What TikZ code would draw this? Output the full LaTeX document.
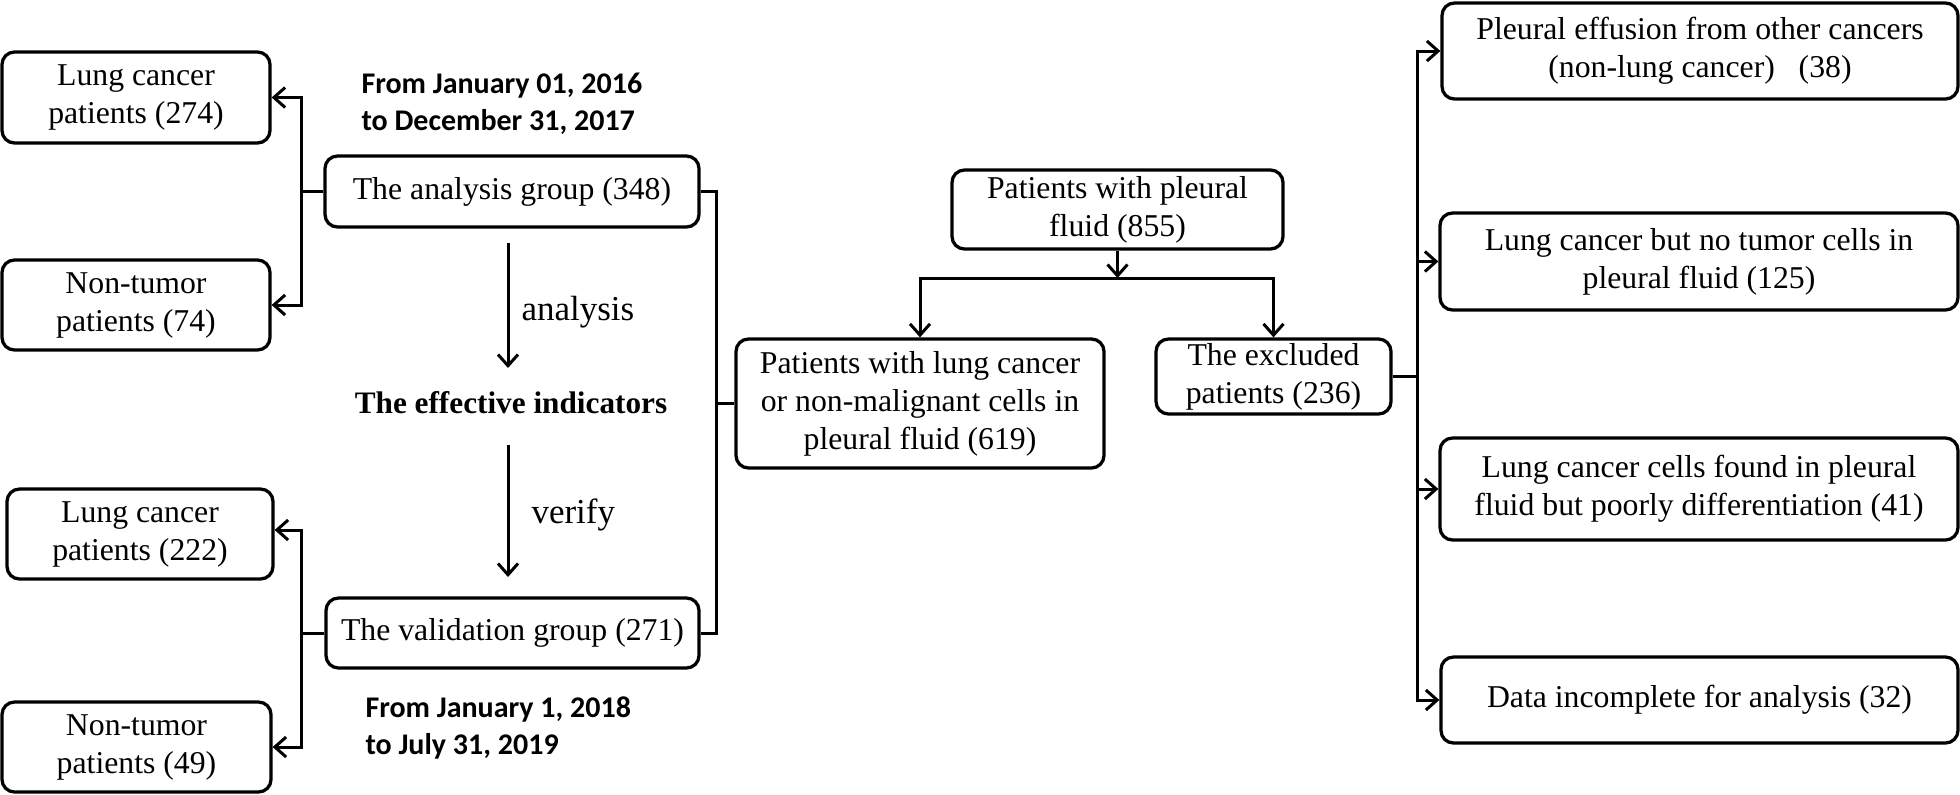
\documentclass[tikz,border=0pt]{standalone}
\usepackage{fontspec}
\setmainfont{Liberation Serif}
\newfontfamily\datefont{Carlito}
\usetikzlibrary{arrows.meta}
\begin{document}
\begin{tikzpicture}[x=0.4pt,y=-0.4pt,
  box/.style={draw, line width=1.3pt, rounded corners=5pt, align=center, inner sep=0pt,
    font=\fontsize{12.7}{15.2}\selectfont},
  conn/.style={line width=1.2pt},
  arr/.style={conn, -{Straight Barb[length=4.5pt,width=8pt]}},
  datetxt/.style={align=left, inner sep=0pt, font=\datefont\bfseries\fontsize{12}{14.8}\selectfont},
  lbl/.style={inner sep=0pt, font=\fontsize{14}{16}\selectfont}]
\useasboundingbox (0,0) rectangle (1960,794);

% left column boxes
\node[box, minimum width=107.2pt, minimum height=36.4pt] (A1) at (136,97.5) {Lung cancer\\patients (274)};
\node[box, minimum width=107.2pt, minimum height=36pt] (A2) at (136,305) {Non-tumor\\patients (74)};
\node[box, minimum width=106.4pt, minimum height=36pt] (A3) at (140,534) {Lung cancer\\patients (222)};
\node[box, minimum width=107.6pt, minimum height=36pt] (A4) at (136.5,747) {Non-tumor\\patients (49)};

% group boxes
\node[box, minimum width=149.6pt, minimum height=28.4pt] (ana) at (512,191.5) {The analysis group (348)};
\node[box, minimum width=149.2pt, minimum height=28pt] (val) at (512.5,633) {The validation group (271)};

% dates
\node[datetxt, anchor=west] (d1) at (361,104) {From January 01, 2016\\to December 31, 2017};
\node[datetxt, anchor=west] (d2) at (365,727.5) {From January 1, 2018\\to July 31, 2019};

% effective indicators
\node[inner sep=0pt, anchor=base, font=\bfseries\fontsize{12.5}{15}\selectfont] (eff) at (511,413) {The effective indicators};
\coordinate (a1) at (508,243);
\coordinate (a2) at (508,368);
\coordinate (v1) at (508,445);
\coordinate (v2) at (508,577);
\draw[arr] (a1) -- (a2);
\draw[arr] (v1) -- (v2);
\node[lbl, anchor=base west] (lan) at (521,320) {analysis};
\node[lbl, anchor=base west] (lve) at (531,523) {verify};

% left brackets
\coordinate (lb1) at (301,191.5);
\coordinate (lb2) at (301,633);
\draw[conn] (ana.west) -- (lb1);
\draw[arr] (lb1) |- (A1.east);
\draw[arr] (lb1) |- (A2.east);
\draw[conn] (val.west) -- (lb2);
\draw[arr] (lb2) |- ([yshift=1.6pt]A3.east);
\draw[arr] (lb2) |- (A4.east);

% middle
\node[box, minimum width=147.2pt, minimum height=51.6pt] (mid) at (920,403.5) {Patients with lung cancer\\or non-malignant cells in\\pleural fluid (619)};
\node[box, minimum width=132.4pt, minimum height=31.6pt] (ple) at (1117.5,209.5) {Patients with pleural\\fluid (855)};
\node[box, minimum width=94pt, minimum height=30pt] (exc) at (1273.5,376.5) {The excluded\\patients (236)};

\coordinate (rb) at (716,403.5);
\draw[conn] (ana.east) -| (rb);
\draw[conn] (val.east) -| (rb);
\draw[conn] (rb) -- (mid.west);

\coordinate (sp) at (1117.5,278);
\draw[arr] (ple.south) -- (sp);
\draw[arr] (sp) -| (mid.north);
\draw[arr] (sp) -| (exc.north);

% right column
\node[box, minimum width=206.4pt, minimum height=38.4pt] (R1) at (1700,51) {Pleural effusion from other cancers\\(non-lung cancer)\ \ \ (38)};
\node[box, minimum width=207.2pt, minimum height=38.8pt] (R2) at (1699,261.5) {Lung cancer but no tumor cells in\\pleural fluid (125)};
\node[box, minimum width=207.2pt, minimum height=40.8pt] (R3) at (1699,489) {Lung cancer cells found in pleural\\fluid but poorly differentiation (41)};
\node[box, minimum width=206.8pt, minimum height=34.4pt] (R4) at (1699.5,700) {Data incomplete for analysis (32)};

\coordinate (eb) at (1417,376.5);
\draw[conn] (exc.east) -- (eb);
\draw[arr] (eb) |- (R1.west);
\draw[arr] (eb) |- (R2.west);
\draw[arr] (eb) |- (R3.west);
\draw[arr] (eb) |- (R4.west);
\end{tikzpicture}
\end{document}
